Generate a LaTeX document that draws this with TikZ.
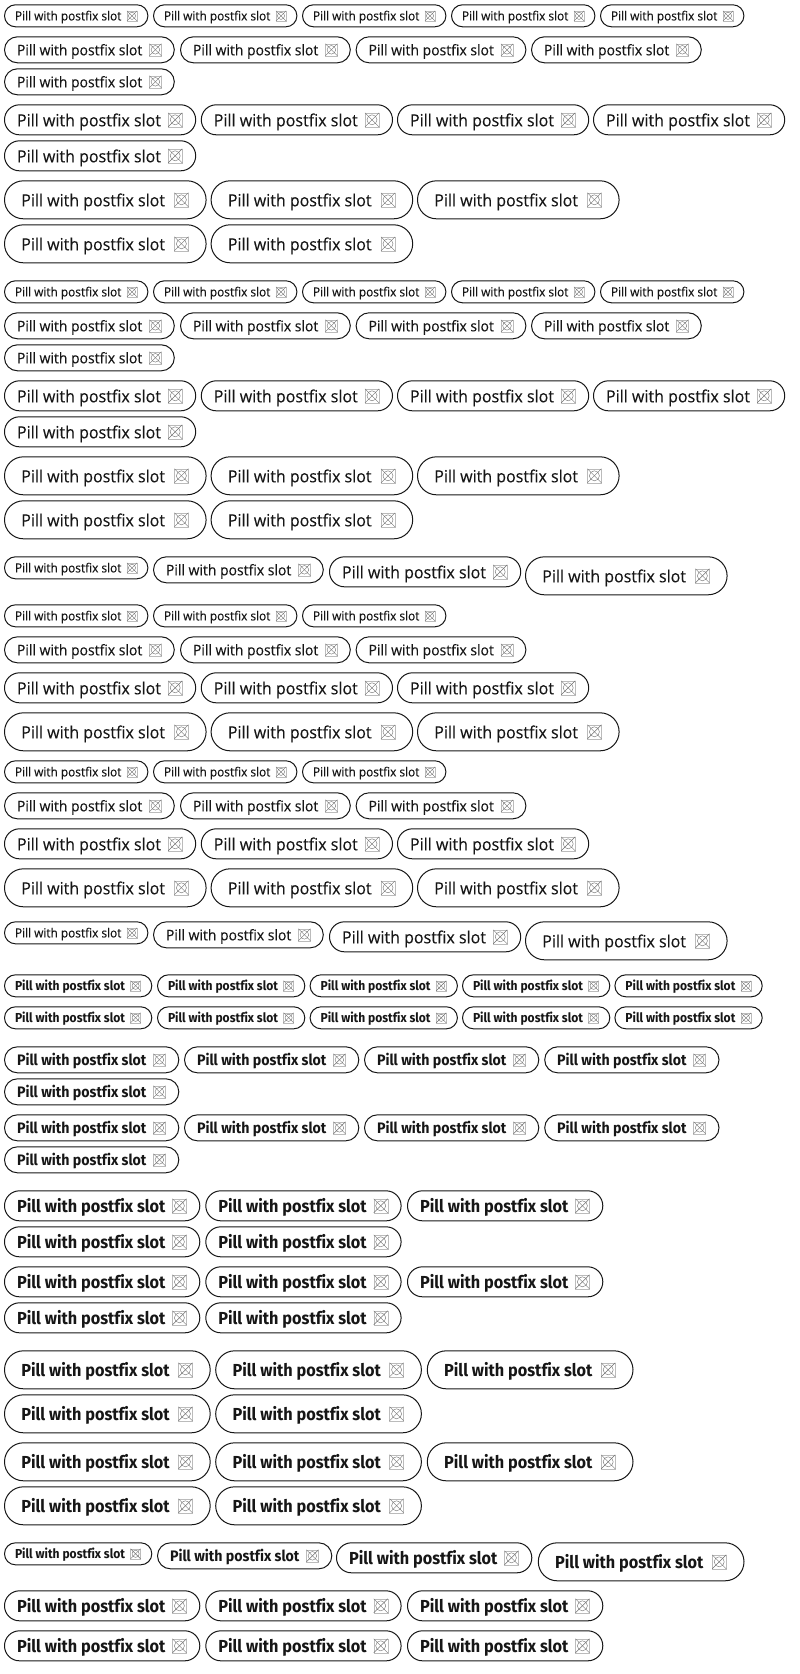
\documentclass[tikz,border=0pt]{standalone}
\usepackage{fontspec}
\usepackage{graphicx}
\setmainfont[Ligatures=CommonOff,FakeBold=0.2]{Open Sans}
\newfontfamily\pillbold[Ligatures=CommonOff]{Fira Sans}
\definecolor{ink}{HTML}{161616}
\definecolor{iconink}{HTML}{707070}
\definecolor{iconedge}{HTML}{BBBBBB}
\tikzset{
  pillbox/.style={draw=ink,line width=1pt,fill=white,inner sep=0pt,outer sep=0pt,anchor=north west},
  pilltext/.style={inner sep=0pt,outer sep=0pt,anchor=base west,text=ink},
  iconbox/.style={draw=iconedge,line width=0.25pt,inner sep=0pt,outer sep=0pt},
  iconline/.style={draw=iconink,line width=0.4pt}
}
\newcounter{pillno}
% code, w, h, text inset, text width, icon centre, icon size, baseline offset, font
\newcommand\defpill[9]{%
  \expandafter\def\csname pw#1\endcsname{#2}%
  \expandafter\def\csname ph#1\endcsname{#3}%
  \expandafter\def\csname pi#1\endcsname{#4}%
  \expandafter\def\csname pt#1\endcsname{#5}%
  \expandafter\def\csname pc#1\endcsname{#6}%
  \expandafter\def\csname ps#1\endcsname{#7}%
  \expandafter\def\csname pb#1\endcsname{#8}%
  \expandafter\def\csname pf#1\endcsname{#9}}
\defpill{xsr}{144.4}{23}{11.0}{106.4}{128}{10}{4.6}{\fontsize{12.6}{14}\selectfont}
\defpill{smr}{170.8}{27}{13.0}{125.3}{151.4}{12}{5.5}{\fontsize{14.7}{17}\selectfont}
\defpill{mdr}{192.2}{31}{13.0}{144}{171.2}{14}{6.5}{\fontsize{16.8}{19}\selectfont}
\defpill{lgr}{202.6}{39}{17.3}{143.7}{177.4}{14}{6.5}{\fontsize{16.8}{19}\selectfont}
\defpill{xsb}{148.3}{23}{11.0}{110}{131.6}{10}{4.6}{\pillbold\fontsize{13}{14}\bfseries\selectfont}
\defpill{smb}{175.3}{27}{13.0}{129.4}{155.4}{12}{5.5}{\pillbold\fontsize{15.2}{17}\bfseries\selectfont}
\defpill{mdb}{196.3}{31}{13.0}{148.4}{175.4}{14}{6.5}{\pillbold\fontsize{17.4}{19}\bfseries\selectfont}
\defpill{lgb}{206.7}{39}{17.3}{148.3}{181.4}{14}{6.5}{\pillbold\fontsize{17.4}{19}\bfseries\selectfont}
% code, left, top
\newcommand\pill[3]{%
  \stepcounter{pillno}%
  \edef\n{\arabic{pillno}}%
  \edef\W{\csname pw#1\endcsname}\edef\H{\csname ph#1\endcsname}%
  \pgfmathsetmacro\bw{\W-1}\pgfmathsetmacro\bh{\H-1}\pgfmathsetmacro\rr{\bh/2-0.01}%
  \pgfmathsetmacro\bx{#2+0.5}\pgfmathsetmacro\by{#3+0.5}%
  \node[pillbox,minimum width=\bw pt,minimum height=\bh pt,rounded corners=\rr pt] (pill\n) at (\bx,\by) {};
  \pgfmathsetmacro\tx{#2+\csname pi#1\endcsname}%
  \pgfmathsetmacro\ty{#3+\H/2+\csname pb#1\endcsname}%
  \node[pilltext] (label\n) at (\tx,\ty) {\resizebox{\csname pt#1\endcsname pt}{\height}{\csname pf#1\endcsname Pill with postfix slot}};
  \pgfmathsetmacro\ix{#2+\csname pc#1\endcsname}%
  \pgfmathsetmacro\iy{#3+\H/2}%
  \edef\S{\csname ps#1\endcsname}%
  \pgfmathsetmacro\ir{0.36*\S}%
  \node[iconbox,minimum size=\S pt] (icon\n) at (\ix,\iy) {};
  \draw[iconline] (icon\n.center) circle[radius=\ir pt];
  \draw[iconline] (icon\n.north west) -- (icon\n.south east);
  \draw[iconline] (icon\n.north east) -- (icon\n.south west);
}
% code, top, list of lefts
\newcommand\pillrow[3]{\foreach \px in {#3}{\pill{#1}{\px}{#2}}}
\begin{document}
\begin{tikzpicture}[x=1pt,y=-1pt]
\useasboundingbox (0,0) rectangle (800,1674);
% two identical groups
\foreach \o in {0,276}{
  \pgfmathsetmacro\ya{4.3+\o}\pillrow{xsr}{\ya}{4,153,302,451,600}
  \pgfmathsetmacro\ya{36.3+\o}\pillrow{smr}{\ya}{4,180,355.6,531}
  \pgfmathsetmacro\ya{68.3+\o}\pillrow{smr}{\ya}{4}
  \pgfmathsetmacro\ya{104.3+\o}\pillrow{mdr}{\ya}{4,200.8,397,593}
  \pgfmathsetmacro\ya{140.3+\o}\pillrow{mdr}{\ya}{4}
  \pgfmathsetmacro\ya{180.3+\o}\pillrow{lgr}{\ya}{4,210.6,417}
  \pgfmathsetmacro\ya{224.3+\o}\pillrow{lgr}{\ya}{4,210.6}
}
% aligned row
\pill{xsr}{4}{556.3}\pill{smr}{153}{556.3}\pill{mdr}{329}{556.3}\pill{lgr}{525}{556.3}
% three per row
\pillrow{xsr}{604.3}{4,153,302}
\pillrow{smr}{636.3}{4,180,355.6}
\pillrow{mdr}{672.3}{4,200.8,397}
\pillrow{lgr}{712.3}{4,210.6,417}
\pillrow{xsr}{760.3}{4,153,302}
\pillrow{smr}{792.3}{4,180,355.6}
\pillrow{mdr}{828.3}{4,200.8,397}
\pillrow{lgr}{868.3}{4,210.6,417}
\pill{xsr}{4}{921.3}\pill{smr}{153}{921.3}\pill{mdr}{329}{921.3}\pill{lgr}{525}{921.3}
% bold
\pillrow{xsb}{974.3}{4,157,309.6,462,614.4}
\pillrow{xsb}{1006.3}{4,157,309.6,462,614.4}
\pillrow{smb}{1046.3}{4,184,364,544.2}
\pillrow{smb}{1078.3}{4}
\pillrow{smb}{1114.3}{4,184,364,544.2}
\pillrow{smb}{1146.3}{4}
\pillrow{mdb}{1190.3}{4,205.3,407}
\pillrow{mdb}{1226.3}{4,205.3}
\pillrow{mdb}{1266.3}{4,205.3,407}
\pillrow{mdb}{1302.3}{4,205.3}
\pillrow{lgb}{1350.3}{4,215.2,426.8}
\pillrow{lgb}{1394.3}{4,215.2}
\pillrow{lgb}{1442.3}{4,215.2,426.8}
\pillrow{lgb}{1486.3}{4,215.2}
\pill{xsb}{4}{1542.3}\pill{smb}{157}{1542.3}\pill{mdb}{336}{1542.3}\pill{lgb}{537.8}{1542.3}
\pillrow{mdb}{1590.3}{4,205.3,407}
\pillrow{mdb}{1630.3}{4,205.3,407}
\end{tikzpicture}
\end{document}
